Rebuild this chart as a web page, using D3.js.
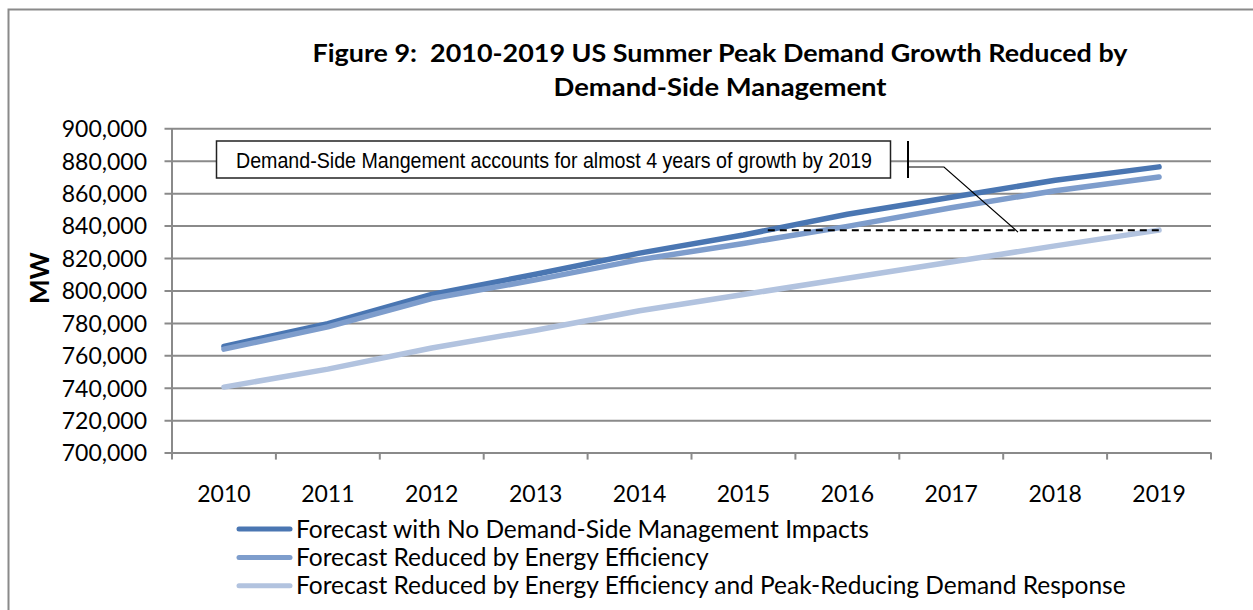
<!DOCTYPE html>
<html>
<head>
<meta charset="utf-8">
<script src="https://cdn.jsdelivr.net/npm/d3@7"></script>
<style>
	body{margin:0;background:#fff;}
	svg{display:block;}
	.tick-label{font-family:Lato,"Open Sans",sans-serif;font-size:23px;fill:#000;}
	.legend-label{font-family:Lato,"Open Sans",sans-serif;font-size:24.5px;fill:#000;}
	.title{font-family:Lato,"Open Sans",sans-serif;font-weight:bold;font-size:25px;fill:#000;white-space:pre;}
	.note{font-family:"Liberation Sans Narrow","Arial Narrow","Liberation Sans",sans-serif;font-size:21.5px;fill:#000;}
</style>
</head>
<body>
<div id="chart"></div>
<script>
//Data
const years = ['2010','2011','2012','2013','2014','2015','2016','2017','2018','2019'];
const noDSM = [765500,779500,797500,810000,823000,834200,847000,857500,868000,876200];
const withEE = [763800,777500,795000,806500,819000,829000,839500,851000,861500,870000];
const withEEandDR = [740400,751500,764500,775500,787500,797500,807500,817500,827500,837200];
const yTicks = [700000,720000,740000,760000,780000,800000,820000,840000,860000,880000,900000];
const seriesNames = [
	'Forecast with No Demand-Side Management Impacts',
	'Forecast Reduced by Energy Efficiency',
	'Forecast Reduced by Energy Efficiency and Peak-Reducing Demand Response'
];
const seriesColors = ['#4a76b2','#7e9dcc','#b2c3df'];
const titleLines = ['Figure 9:  2010-2019 US Summer Peak Demand Growth Reduced by','Demand-Side Management'];
const titleWidths = [815,333]; //measured width of each title line
const noteText = 'Demand-Side Mangement accounts for almost 4 years of growth by 2019';

const series = [noDSM, withEE, withEEandDR].map((values,i) => ({
	name: seriesNames[i],
	color: seriesColors[i],
	values: values.map((v,j) => ({year: years[j], value: v}))
}));

const width = 1253;
const height = 610;
const plotL = 172, plotR = 1211, plotT = 128.3, plotB = 452.6;
const grey = '#8a8a8a';

const svg = d3.select('#chart').append('svg')
	.attr('width',width)
	.attr('height',height);

//outer frame (right and bottom edges sit off the page)
svg.append('rect')
	.attr('x',8.5).attr('y',9.5)
	.attr('width',1270).attr('height',640)
	.style('fill','none')
	.style('stroke',grey)
	.style('stroke-width',2);

//Scales
const scaleX = d3.scaleBand().domain(years).range([plotL,plotR]);
const scaleY = d3.scaleLinear().domain([700000,900000]).range([plotB,plotT]);
const cx = d => scaleX(d) + scaleX.bandwidth()/2;

//Title
svg.selectAll('.title-line')
	.data(titleLines)
	.enter()
	.append('text')
	.attr('class','title title-line')
	.attr('x',720)
	.attr('y',(d,i) => 62 + i*34)
	.attr('text-anchor','middle')
	.attr('textLength',(d,i) => titleWidths[i])
	.attr('lengthAdjust','spacingAndGlyphs')
	.text(d => d);

//Gridlines + y ticks
const axisY = d3.axisLeft(scaleY)
	.tickValues(yTicks)
	.tickSize(-(plotR-plotL))
	.tickFormat(d3.format(','));
const axisYNode = svg.append('g')
	.attr('transform',`translate(${plotL},0)`)
	.call(axisY);
axisYNode.attr('font-size',null).attr('font-family',null);
axisYNode.select('.domain').remove();
axisYNode.selectAll('.tick line')
	.attr('x1',-7.5)
	.style('stroke',grey)
	.style('stroke-width',2);
axisYNode.selectAll('.tick text')
	.attr('class','tick-label')
	.attr('x',-25)
	.attr('dy','0.36em');

//y axis line
svg.append('line')
	.attr('x1',plotL).attr('x2',plotL)
	.attr('y1',plotT).attr('y2',plotB)
	.style('stroke',grey)
	.style('stroke-width',2);

//x axis: ticks between categories
const xBounds = years.map(d => scaleX(d)).concat([plotR]);
svg.selectAll('.x-tick')
	.data(xBounds)
	.enter()
	.append('line')
	.attr('class','x-tick')
	.attr('x1',d => d).attr('x2',d => d)
	.attr('y1',plotB).attr('y2',plotB+7)
	.style('stroke',grey)
	.style('stroke-width',2);

svg.selectAll('.x-label')
	.data(years)
	.enter()
	.append('text')
	.attr('class','tick-label')
	.attr('x',d => cx(d))
	.attr('y',502)
	.attr('text-anchor','middle')
	.text(d => d);

//y axis title
svg.append('text')
	.attr('class','title')
	.attr('transform','translate(49,278) rotate(-90)')
	.attr('text-anchor','middle')
	.style('font-size','26px')
	.text('MW');

//Lines
const line = d3.line()
	.x(d => cx(d.year))
	.y(d => scaleY(d.value));

svg.selectAll('.series')
	.data(series)
	.enter()
	.append('path')
	.attr('class','series')
	.attr('d',d => line(d.values))
	.style('fill','none')
	.style('stroke',d => d.color)
	.style('stroke-width',5.5)
	.style('stroke-linecap','round')
	.style('stroke-linejoin','round');

//Dashed reference: final reduced value carried back to where the no-DSM forecast hit it
const target = withEEandDR[withEEandDR.length-1];
const k = noDSM.findIndex(v => v >= target);
const frac = (target - noDSM[k-1])/(noDSM[k]-noDSM[k-1]);
const dashX0 = cx(years[k-1]) + frac*(cx(years[k]) - cx(years[k-1]));
svg.append('line')
	.attr('x1',dashX0)
	.attr('x2',cx(years[years.length-1]))
	.attr('y1',scaleY(target))
	.attr('y2',scaleY(target))
	.style('stroke','#000')
	.style('stroke-width',2)
	.style('stroke-dasharray','7,5');

//Callout
const note = svg.append('g');
note.append('rect')
	.attr('x',216.5).attr('y',141)
	.attr('width',674).attr('height',37)
	.style('fill','#fff')
	.style('stroke','#222')
	.style('stroke-width',1.5);
note.append('text')
	.attr('class','note')
	.attr('x',236)
	.attr('y',168)
	.attr('textLength',636)
	.attr('lengthAdjust','spacingAndGlyphs')
	.text(noteText);
note.append('line')
	.attr('x1',908).attr('x2',908)
	.attr('y1',141).attr('y2',178)
	.style('stroke','#000')
	.style('stroke-width',2);
note.append('polyline')
	.attr('points',`908,167 944,167 1018,${scaleY(target)+2}`)
	.style('fill','none')
	.style('stroke','#000')
	.style('stroke-width',1.2);

//Legend
const legend = svg.selectAll('.legend')
	.data(series)
	.enter()
	.append('g')
	.attr('class','legend')
	.attr('transform',(d,i) => `translate(0,${529 + i*28.4})`);
legend.append('line')
	.attr('x1',239).attr('x2',290)
	.attr('y1',0).attr('y2',0)
	.style('stroke',d => d.color)
	.style('stroke-width',5)
	.style('stroke-linecap','round');
legend.append('text')
	.attr('class','legend-label')
	.attr('x',296)
	.attr('y',8.5)
	.text(d => d.name);
</script>
</body>
</html>
